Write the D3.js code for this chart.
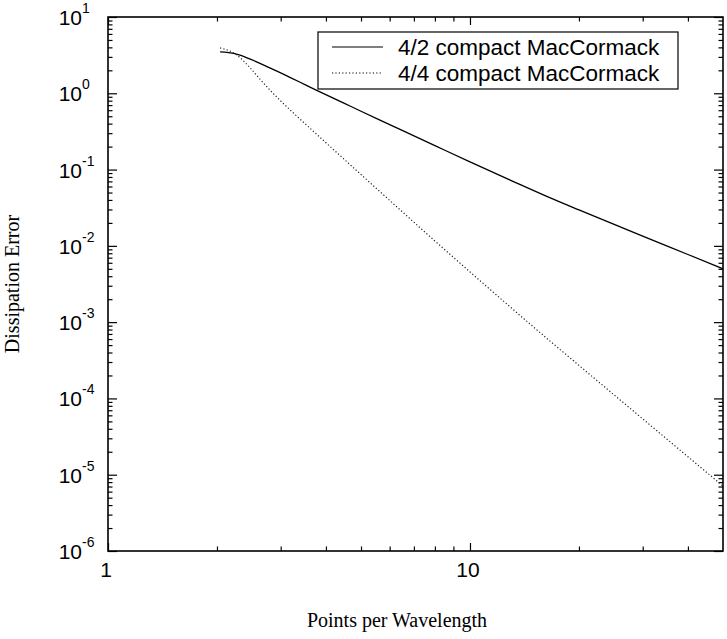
<!DOCTYPE html>
<html>
<head>
<meta charset="utf-8">
<script src="https://cdn.jsdelivr.net/npm/d3@7"></script>
<style>
  body { margin: 0; background: #fff; }
  svg { display: block; }
</style>
</head>
<body>
<div id="chart"></div>
<script>
// points per wavelength / dissipation error
const ppw42 = [2.04, 2.24, 2.47, 2.8, 3.18, 3.5, 3.85, 4.5, 5, 6, 8, 10, 13, 16.6, 20, 30, 40, 50];
const err42 = [3.48, 3.3, 2.8, 2.15, 1.62, 1.30, 1.044, 0.737, 0.582, 0.389, 0.206, 0.126, 0.0718, 0.0429, 0.0296, 0.0134, 0.0077, 0.0050];
const ppw44 = [2.04, 2.17, 2.31, 2.47, 2.63, 2.8, 3.0, 3.2, 4, 5, 6, 8, 10, 16.6, 20, 30, 40, 50];
const err44 = [3.93, 3.58, 2.97, 2.15, 1.53, 1.105, 0.793, 0.593, 0.225, 0.086, 0.0394, 0.0116, 0.00456, 5.7e-4, 2.71e-4, 5.4e-5, 1.72e-5, 7.1e-6];
const seriesNames = ["4/2 compact MacCormack", "4/4 compact MacCormack"];
const xDomain = [1, 50];
const yDomain = [1e-6, 10];
const xMajor = [1, 10];
const xMinor = [2, 3, 4, 5, 6, 7, 8, 9, 20, 30, 40];
const yExponents = [1, 0, -1, -2, -3, -4, -5, -6];

const W = 727, H = 639;
const margin = { top: 17, right: 4, bottom: 88, left: 108 };
const width = W - margin.left - margin.right;
const height = H - margin.top - margin.bottom;

const svg = d3.select("#chart").append("svg")
  .attr("width", W)
  .attr("height", H);

const g = svg.append("g")
  .attr("transform", `translate(${margin.left},${margin.top})`);

const x = d3.scaleLog().domain(xDomain).range([0, width]);
const y = d3.scaleLog().domain(yDomain).range([height, 0]);

// minor ticks for y: 2..9 in each decade
const yMinor = y.ticks().filter(v => Math.abs(Math.log10(v) - Math.round(Math.log10(v))) > 1e-6);
const yMajor = yExponents.map(e => Math.pow(10, e));

function tickAxis(axisFn, scale, values, size, transform) {
  const a = g.append("g")
    .attr("transform", transform || null)
    .call(axisFn(scale).tickValues(values).tickSize(size).tickSizeOuter(0).tickFormat(""));
  a.select(".domain").remove();
  a.selectAll("line").attr("stroke", "#000").attr("stroke-width", 1.2);
  return a;
}

// inward ticks on all four sides
tickAxis(d3.axisLeft, y, yMajor, -9);
tickAxis(d3.axisLeft, y, yMinor, -4.5);
tickAxis(d3.axisRight, y, yMajor, -9, `translate(${width},0)`);
tickAxis(d3.axisRight, y, yMinor, -4.5, `translate(${width},0)`);
tickAxis(d3.axisBottom, x, xMajor, -8, `translate(0,${height})`);
tickAxis(d3.axisBottom, x, xMinor, -4.5, `translate(0,${height})`);
tickAxis(d3.axisTop, x, xMajor, -8);
tickAxis(d3.axisTop, x, xMinor, -4.5);

// frame
g.append("rect")
  .attr("width", width)
  .attr("height", height)
  .attr("fill", "none")
  .attr("stroke", "#000")
  .attr("stroke-width", 1.6);

// y tick labels 10^n
const yLab = g.append("g")
  .style("font-family", "'Liberation Sans', Arial, sans-serif")
  .style("font-size", "21px")
  .attr("fill", "#000");
yExponents.forEach(e => {
  yLab.append("text")
    .attr("x", -26)
    .attr("y", y(Math.pow(10, e)) + 8)
    .attr("text-anchor", "end")
    .text("10");
  yLab.append("text")
    .attr("x", -26)
    .attr("y", y(Math.pow(10, e)) - 4)
    .style("font-size", "14px")
    .text(e);
});

// x tick labels
g.append("g")
  .style("font-family", "'Liberation Sans', Arial, sans-serif")
  .style("font-size", "21px")
  .selectAll("text")
  .data(xMajor)
  .enter()
  .append("text")
  .attr("x", d => x(d) - 2)
  .attr("y", height + 26)
  .attr("text-anchor", "middle")
  .text(d => d);

// axis titles
svg.append("text")
  .attr("x", 397)
  .attr("y", 627)
  .attr("text-anchor", "middle")
  .style("font-family", "'Liberation Serif', 'Times New Roman', serif")
  .style("font-size", "20px")
  .text("Points per Wavelength");

svg.append("text")
  .attr("transform", `translate(19,${margin.top + height / 2}) rotate(-90)`)
  .attr("text-anchor", "middle")
  .style("font-family", "'Liberation Serif', 'Times New Roman', serif")
  .style("font-size", "20px")
  .text("Dissipation Error");

// curves
const line = d3.line()
  .x(d => x(d[0]))
  .y(d => y(d[1]))
  .curve(d3.curveMonotoneX);

const data42 = ppw42.map((v, i) => [v, err42[i]]);
const data44 = ppw44.map((v, i) => [v, err44[i]]);

g.append("path")
  .datum(data42)
  .attr("fill", "none")
  .attr("stroke", "#000")
  .attr("stroke-width", 1.3)
  .attr("d", line);

g.append("path")
  .datum(data44)
  .attr("fill", "none")
  .attr("stroke", "#222")
  .attr("stroke-width", 1.2)
  .attr("stroke-dasharray", "1.2,2.2")
  .attr("d", line);

// legend
const legend = svg.append("g").attr("transform", "translate(318,32)");
legend.append("rect")
  .attr("width", 360)
  .attr("height", 57)
  .attr("fill", "#fff")
  .attr("stroke", "#000")
  .attr("stroke-width", 1.2);

const dashes = [null, "1.2,2.2"];
seriesNames.forEach((name, i) => {
  const cy = 15 + i * 26;
  legend.append("line")
    .attr("x1", 14).attr("x2", 65)
    .attr("y1", cy).attr("y2", cy)
    .attr("stroke", "#000")
    .attr("stroke-width", 1.2)
    .attr("stroke-dasharray", dashes[i]);
  legend.append("text")
    .attr("x", 80)
    .attr("y", cy + 8)
    .style("font-family", "'Liberation Sans', Arial, sans-serif")
    .style("font-size", "22.5px")
    .text(name);
});
</script>
</body>
</html>
